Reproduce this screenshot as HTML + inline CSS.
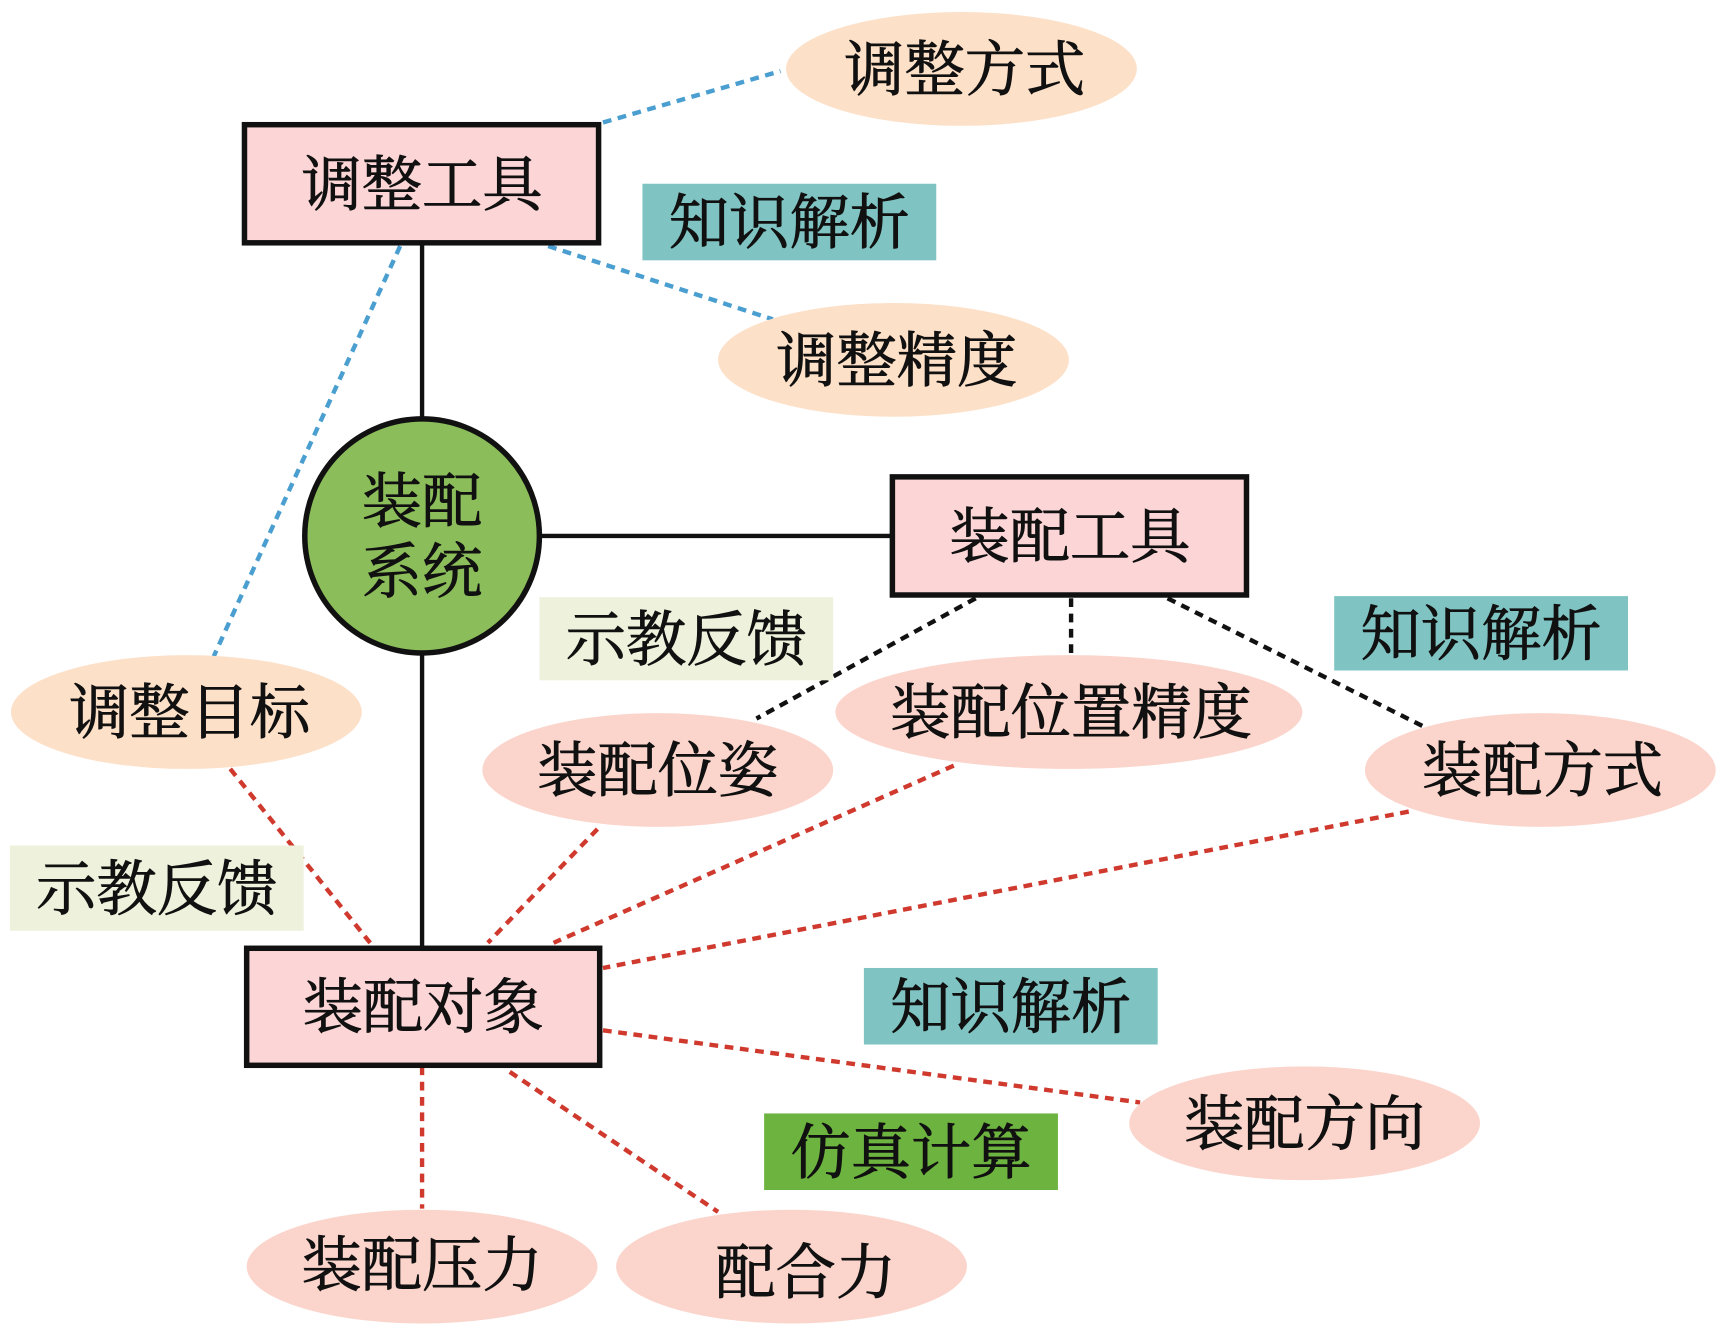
<!DOCTYPE html>
<html><head><meta charset="utf-8"><style>
html,body{margin:0;padding:0;background:#fff;}
svg{display:block;}
text{font-family:"Liberation Serif","Noto Serif CJK SC","Noto Sans CJK SC",serif;font-size:55px;fill:#111;stroke:#111;stroke-width:0.8px;text-anchor:middle;dominant-baseline:central;}
</style></head><body>
<svg width="1719" height="1330" viewBox="0 0 1568 1216" preserveAspectRatio="none" xmlns="http://www.w3.org/2000/svg">
<g stroke-width="4" fill="none">
<g stroke="#111">
<line x1="385" y1="222" x2="385" y2="383"/>
<line x1="492" y1="490" x2="814" y2="490"/>
<line x1="385" y1="597" x2="385" y2="867"/>
</g>
<g stroke="#4a9fd0" stroke-dasharray="8,6">
<line x1="550" y1="112" x2="712" y2="65"/>
<line x1="500" y1="225" x2="705" y2="292"/>
<line x1="365" y1="225" x2="195" y2="600"/>
</g>
<g stroke="#111" stroke-dasharray="8,6">
<line x1="890" y1="547" x2="690" y2="657"/>
<line x1="977" y1="547" x2="977" y2="600"/>
<line x1="1065" y1="547" x2="1300" y2="665"/>
</g>
<g stroke="#d03a2e" stroke-dasharray="8,6">
<line x1="210" y1="703" x2="340" y2="865"/>
<line x1="545" y1="758" x2="445" y2="862"/>
<line x1="870" y1="700" x2="505" y2="862"/>
<line x1="1285" y1="742" x2="550" y2="885"/>
<line x1="550" y1="942" x2="1040" y2="1008"/>
<line x1="385" y1="975" x2="385" y2="1105"/>
<line x1="465" y1="980" x2="655" y2="1108"/>
</g>
</g>
<rect x="586" y="168" width="268" height="70" fill="#7fc4c2"/><text x="720" y="205">知识解析</text>
<rect x="492" y="546" width="268" height="76" fill="#eef2dc"/><text x="626" y="586">示教反馈</text>
<rect x="1217" y="545" width="268" height="68" fill="#7fc4c2"/><text x="1351" y="581">知识解析</text>
<rect x="9" y="773" width="268" height="78" fill="#eef2dc"/><text x="143" y="814">示教反馈</text>
<rect x="788" y="885" width="268" height="70" fill="#7fc4c2"/><text x="922" y="922">知识解析</text>
<rect x="697" y="1018" width="268" height="70" fill="#6db33f"/><text x="831" y="1055">仿真计算</text>
<ellipse cx="877" cy="63" rx="160" ry="52" fill="#fde0c8"/><text x="880" y="65">调整方式</text>
<ellipse cx="815" cy="329" rx="160" ry="52" fill="#fde0c8"/><text x="818" y="331">调整精度</text>
<ellipse cx="170" cy="651" rx="160" ry="52" fill="#fde0c8"/><text x="173" y="653">调整目标</text>
<ellipse cx="600" cy="704" rx="160" ry="52" fill="#fbd5cc"/><text x="600" y="706">装配位姿</text>
<ellipse cx="975" cy="651" rx="213" ry="52" fill="#fbd5cc"/><text x="977" y="653">装配位置精度</text>
<ellipse cx="1405" cy="704" rx="160" ry="52" fill="#fbd5cc"/><text x="1407" y="706">装配方式</text>
<ellipse cx="1190" cy="1027" rx="160" ry="52" fill="#fbd5cc"/><text x="1190" y="1029">装配方向</text>
<ellipse cx="385" cy="1158" rx="160" ry="52" fill="#fbd5cc"/><text x="385" y="1158">装配压力</text>
<ellipse cx="722" cy="1158" rx="160" ry="52" fill="#fbd5cc"/><text x="735" y="1165">配合力</text>
<rect x="223" y="114" width="323" height="108" fill="#fcd5d6" stroke="#111" stroke-width="5"/><text x="385" y="170">调整工具</text>
<rect x="814" y="436" width="323" height="108" fill="#fcd5d6" stroke="#111" stroke-width="5"/><text x="976" y="492">装配工具</text>
<rect x="225" y="867" width="322" height="107" fill="#fcd5d6" stroke="#111" stroke-width="5"/><text x="386" y="922">装配对象</text>
<circle cx="385" cy="490" r="107" fill="#8bbd5a" stroke="#111" stroke-width="5"/>
<text x="385" y="460">装配</text><text x="385" y="524">系统</text>
</svg>
</body></html>
